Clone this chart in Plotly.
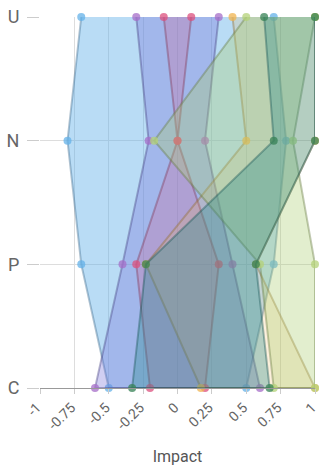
import plotly.graph_objects as go

# categories, top to bottom
levels = ["U", "N", "P", "C"]

# left / right edge of each band at U, N, P, C
light_blue_lo = [-0.70, -0.80, -0.70, -0.50]
light_blue_hi = [0.70, 0.79, 0.70, 0.50]
purple_lo = [-0.30, -0.21, -0.40, -0.60]
purple_hi = [0.30, 0.20, 0.40, 0.60]
pink_lo = [-0.10, 0.0, -0.30, -0.20]
pink_hi = [0.10, 0.0, 0.30, 0.20]
orange_lo = [0.40, 0.50, -0.23, 0.17]
orange_hi = [1.0, 1.0, 0.57, 1.0]
lime_lo = [0.50, -0.17, 0.60, 0.70]
lime_hi = [1.0, 0.84, 1.0, 1.0]
green_lo = [0.63, 0.70, -0.23, -0.33]
green_hi = [1.0, 1.0, 0.57, 0.67]

x_ticks = [-1, -0.75, -0.5, -0.25, 0, 0.25, 0.5, 0.75, 1]
x_tick_text = ["-1", "-0.75", "-0.5", "-0.25", "0", "0.25", "0.5", "0.75", "1"]

# (left, right, fill rgb, fill alpha, marker rgb)
bands = [
    (light_blue_lo, light_blue_hi, (100, 178, 232), 0.45, (100, 178, 232)),
    (purple_lo, purple_hi, (115, 110, 215), 0.33, (165, 110, 200)),
    (pink_lo, pink_hi, (215, 90, 140), 0.25, (220, 80, 125)),
    (orange_lo, orange_hi, (240, 180, 80), 0.2, (240, 180, 80)),
    (lime_lo, lime_hi, (170, 205, 110), 0.34, (180, 210, 120)),
    (green_lo, green_hi, (40, 140, 140), 0.34, (55, 130, 85)),
]

fig = go.Figure()

for lo, hi, (r, g, b), a, (mr, mg, mb) in bands:
    # walk down the left edge, then back up the right edge
    xs = list(lo) + list(hi[::-1])
    ys = levels + levels[::-1]
    fig.add_trace(go.Scatter(
        x=xs, y=ys,
        mode="lines+markers",
        fill="toself",
        fillcolor=f"rgba({r},{g},{b},{a})",
        line=dict(color=f"rgba({int(r*0.6)},{int(g*0.6)},{int(b*0.6)},0.4)", width=2),
        marker=dict(size=8, color=f"rgba({mr},{mg},{mb},0.75)"),
        cliponaxis=False,
        showlegend=False,
        hoverinfo="x+y",
    ))

fig.update_layout(
    width=320,
    height=476,
    margin=dict(l=40, r=5, t=17, b=88),
    plot_bgcolor="white",
    paper_bgcolor="white",
    font=dict(family="Roboto", color="#666"),
    xaxis=dict(
        range=[-1, 1],
        automargin=False,
        tickvals=x_ticks,
        ticktext=x_tick_text,
        tickangle=-45,
        tickfont=dict(size=14),
        ticklabeloverflow="allow",
        ticklabelshift=-3,
        ticks="outside",
        ticklen=5,
        tickcolor="#ccc",
        showgrid=True,
        gridcolor="#ddd",
        zeroline=False,
        showline=True,
        linecolor="#999",
        title=dict(text="Impact", font=dict(size=16, color="#555"), standoff=18),
    ),
    yaxis=dict(
        type="category",
        categoryorder="array",
        categoryarray=levels[::-1],
        range=[0, 3],
        automargin=False,
        tickfont=dict(size=18),
        ticks="outside",
        ticklen=12,
        ticklabelstandoff=4,
        tickcolor="#ccc",
        showgrid=True,
        gridcolor="#ddd",
        zeroline=False,
    ),
)

# page body has a default 8px margin; drop it so the chart sits at 0,0
fig.write_html(
    "out.html",
    config={"displayModeBar": False},
    post_script="document.body.style.margin='0';",
)
